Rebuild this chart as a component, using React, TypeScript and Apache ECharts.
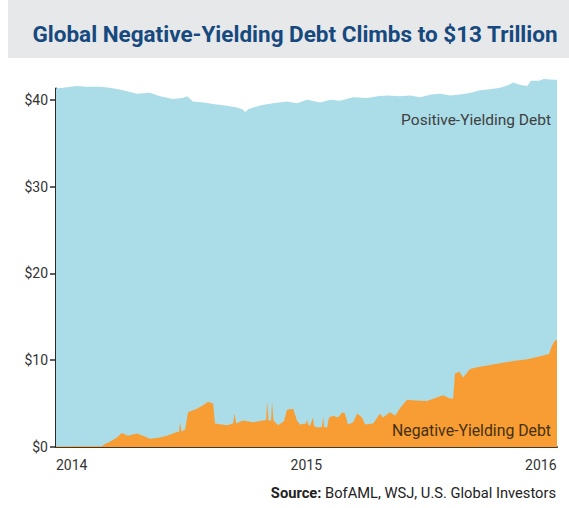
import React, { useEffect, useRef } from "react";
import * as echarts from "echarts";

// x positions are decimal years
const xYears = [2014, 2015, 2016];
const yTicks = [0, 10, 20, 30, 40];

const totalT = [2014.0, 2014.03, 2014.088, 2014.13, 2014.188, 2014.23, 2014.286, 2014.345, 2014.401, 2014.443, 2014.499, 2014.54, 2014.559, 2014.584, 2014.63, 2014.67, 2014.729, 2014.772, 2014.795, 2014.806, 2014.82, 2014.84, 2014.88, 2014.925, 2014.985, 2015.028, 2015.07, 2015.126, 2015.17, 2015.211, 2015.267, 2015.326, 2015.37, 2015.412, 2015.467, 2015.51, 2015.552, 2015.6, 2015.638, 2015.68, 2015.723, 2015.77, 2015.808, 2015.85, 2015.893, 2015.93, 2015.949, 2015.98, 2016.009, 2016.025, 2016.06, 2016.08, 2016.119, 2016.136];
const totalV = [41.3, 41.4, 41.6, 41.5, 41.5, 41.4, 41.1, 40.7, 40.8, 40.4, 40.1, 40.2, 40.4, 39.8, 39.7, 39.5, 39.3, 39.1, 38.9, 38.6, 38.9, 39.1, 39.4, 39.6, 39.8, 39.6, 40.0, 39.7, 40.0, 39.9, 40.3, 40.2, 40.4, 40.5, 40.4, 40.5, 40.3, 40.6, 40.7, 40.5, 40.6, 40.8, 41.1, 41.2, 41.4, 41.7, 42.0, 41.7, 41.6, 42.2, 42.2, 42.4, 42.3, 42.3];

const negT = [2014.0, 2014.124, 2014.196, 2014.205, 2014.23, 2014.26, 2014.281, 2014.307, 2014.345, 2014.371, 2014.401, 2014.443, 2014.473, 2014.512, 2014.525, 2014.529, 2014.535, 2014.55, 2014.563, 2014.601, 2014.627, 2014.648, 2014.67, 2014.678, 2014.729, 2014.755, 2014.761, 2014.768, 2014.797, 2014.84, 2014.883, 2014.896, 2014.9, 2014.906, 2014.917, 2014.921, 2014.927, 2014.947, 2014.972, 2014.985, 2015.011, 2015.028, 2015.041, 2015.066, 2015.07, 2015.075, 2015.083, 2015.096, 2015.1, 2015.117, 2015.134, 2015.139, 2015.143, 2015.156, 2015.164, 2015.181, 2015.203, 2015.22, 2015.232, 2015.245, 2015.267, 2015.284, 2015.305, 2015.318, 2015.352, 2015.382, 2015.394, 2015.424, 2015.446, 2015.467, 2015.497, 2015.531, 2015.582, 2015.608, 2015.65, 2015.68, 2015.693, 2015.701, 2015.719, 2015.736, 2015.765, 2015.795, 2015.838, 2015.893, 2015.949, 2016.009, 2016.064, 2016.102, 2016.115, 2016.128, 2016.136];
const negV = [0.05, 0.1, 0.1, 0.3, 0.6, 1.1, 1.6, 1.3, 1.55, 1.3, 0.95, 1.1, 1.3, 1.7, 1.8, 2.85, 1.8, 2.0, 4.0, 4.4, 4.8, 5.2, 5.0, 2.7, 2.5, 2.7, 3.85, 2.7, 3.05, 2.85, 3.05, 3.1, 5.3, 3.05, 3.05, 5.3, 3.05, 2.5, 3.0, 4.3, 4.4, 3.0, 2.6, 2.7, 3.2, 2.6, 2.45, 3.4, 2.4, 2.25, 2.3, 3.5, 2.3, 2.25, 3.4, 3.6, 3.4, 4.0, 3.85, 2.6, 2.85, 3.85, 3.4, 2.6, 2.7, 3.85, 3.4, 4.0, 3.6, 4.5, 5.45, 5.35, 5.3, 5.55, 5.95, 5.6, 5.6, 8.45, 8.7, 8.0, 9.0, 9.2, 9.4, 9.65, 9.9, 10.1, 10.45, 10.7, 11.7, 12.3, 12.3];

const FONT = "Roboto, 'Noto Sans', sans-serif";

export default function App() {
  const ref = useRef<HTMLDivElement>(null);
  useEffect(() => {
    if (!ref.current) return;
    const chart = echarts.init(ref.current, undefined, { renderer: "svg" });
    chart.setOption({
      animation: false,
      backgroundColor: "#ffffff",
      textStyle: { fontFamily: FONT },
      title: {
        text: "Global Negative-Yielding Debt Climbs to $13 Trillion",
        left: 290,
        textAlign: "center",
        top: 17,
        textStyle: { fontFamily: FONT, fontSize: 22.5, fontWeight: "bold", color: "#16497e" },
      },
      graphic: [
        { type: "rect", z: -1, shape: { x: 8, y: 0, width: 561, height: 58 }, style: { fill: "#e7e8ea" } },
        {
          type: "text", right: 18, top: 112, z: 100,
          style: { text: "Positive-Yielding Debt", fontFamily: FONT, fontSize: 15.5, fill: "#404040" },
        },
        {
          type: "text", right: 18, top: 422, z: 100,
          style: { text: "Negative-Yielding Debt", fontFamily: FONT, fontSize: 15.8, fill: "#45300f" },
        },
        {
          type: "text", right: 13, top: 485, z: 100,
          style: {
            text: "{b|Source:} BofAML, WSJ, U.S. Global Investors",
            fontFamily: FONT, fontSize: 14.7, fill: "#222",
            rich: { b: { fontFamily: FONT, fontSize: 14.7, fontWeight: "bold", fill: "#222" } },
          },
        },
      ],
      grid: { left: 56, right: 12, top: 88.5, bottom: 61 },
      xAxis: {
        type: "value",
        min: 2014,
        max: 2016.136,
        interval: 1,
        splitLine: { show: false },
        axisTick: { show: false },
        axisLine: { show: true, lineStyle: { color: "#46382a", width: 2 } },
        axisLabel: {
          customValues: xYears,
          align: "left",
          margin: 11,
          fontSize: 14,
          color: "#333",
          fontFamily: FONT,
          formatter: (v: number) => (xYears.includes(v) ? String(v) : ""),
        },
      },
      yAxis: {
        type: "value",
        min: 0,
        max: 41.3,
        interval: 10,
        splitLine: { show: false },
        axisLine: { show: true, lineStyle: { color: "#2a2a2a", width: 2 } },
        axisTick: { show: true, length: 6, customValues: yTicks, lineStyle: { color: "#2a2a2a", width: 1.5 } },
        axisLabel: {
          customValues: yTicks,
          margin: 8,
          fontSize: 14,
          color: "#333",
          fontFamily: FONT,
          formatter: (v: number) => (yTicks.includes(v) ? "$" + v : ""),
        },
      },
      series: [
        {
          type: "line",
          name: "Positive-Yielding Debt",
          data: totalT.map((t, i) => [t, totalV[i]]),
          showSymbol: false,
          clip: false,
          lineStyle: { width: 0 },
          areaStyle: { color: "#aadde8", opacity: 1 },
          z: 1,
        },
        {
          type: "line",
          name: "Negative-Yielding Debt",
          data: negT.map((t, i) => [t, negV[i]]),
          showSymbol: false,
          clip: false,
          lineStyle: { width: 0 },
          areaStyle: { color: "#f79d34", opacity: 1 },
          z: 2,
        },
      ],
    });
    return () => chart.dispose();
  }, []);
  return (
    <div
      ref={ref}
      style={{ position: "fixed", left: 0, top: 0, width: 569, height: 508 }}
    />
  );
}
